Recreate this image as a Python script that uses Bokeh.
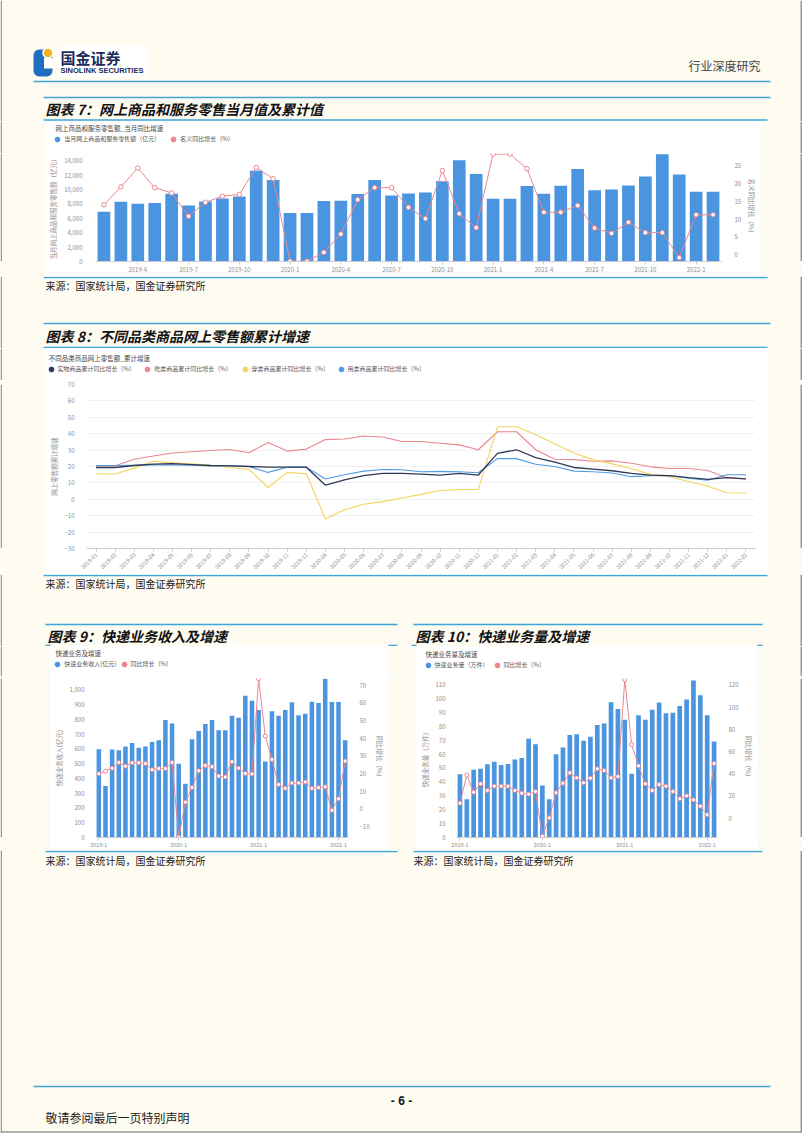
import math
from bokeh.plotting import figure
from bokeh.layouts import column, row
from bokeh.models import (Range1d, LinearAxis, FixedTicker, Legend, LegendItem,
                          NumeralTickFormatter)
from bokeh.core.properties import value
from bokeh.embed import file_html
from bokeh.resources import INLINE

FONT = "Noto Sans CJK SC"
CREAM = "#FEFBF0"
RULE = "#3FA6DA"
BAR = "#4A94E0"
PINK = "#EA8790"
NAVY = "#2F3A57"
YELLOW = "#F4D35E"
LBLUE = "#519CE2"
AX = "#8E8E8E"
PAGE_W, PAGE_H = 802, 1133
NAN = float("nan")

# ---------------- data: chart 7 ----------------
c7_months = ["2019-2", "2019-3", "2019-4", "2019-5", "2019-6", "2019-7", "2019-8", "2019-9", "2019-10",
             "2019-11", "2019-12", "2020-1", "2020-2", "2020-3", "2020-4", "2020-5", "2020-6", "2020-7",
             "2020-8", "2020-9", "2020-10", "2020-11", "2020-12", "2021-1", "2021-2", "2021-3", "2021-4",
             "2021-5", "2021-6", "2021-7", "2021-8", "2021-9", "2021-10", "2021-11", "2021-12", "2022-1",
             "2022-2"]
c7_sales = [6900, 8300, 8020, 8110, 9410, 7790, 8350, 8760, 9040, 12610, 11310, 6720, 6720, 8390, 8440,
            9360, 11310, 9180, 9460, 9600, 11130, 14050, 12150, 8720, 8720, 10480, 9410, 10520, 12840,
            9880, 10010, 10570, 11820, 14880, 12100, 9690, 9690]
c7_growth = [14.0, 19.0, 24.3, 18.8, 17.3, 10.8, 14.7, 16.4, 16.9, 24.4, 21.3, -1.8, -1.8, 0.7, 5.8,
             15.4, 18.8, 18.8, 13.3, 10.1, 23.6, 11.5, 7.6, 28.2, 28.2, 24.1, 11.9, 11.9, 13.8, 7.5, 6.0,
             9.1, 6.2, 6.2, -0.8, 11.2, 11.2]
c7_left_ticks = [0, 2000, 4000, 6000, 8000, 10000, 12000, 14000]
c7_right_ticks = [0, 5, 10, 15, 20, 25]
c7_series = ["当月网上商品和服务零售额（亿元）", "名义同比增长（%）"]

# ---------------- data: chart 8 ----------------
c8_labels = ["2019-01", "2019-02", "2019-03", "2019-04", "2019-05", "2019-06", "2019-07", "2019-08",
             "2019-09", "2019-10", "2019-11", "2019-12", "2020-04", "2020-05", "2020-06", "2020-07",
             "2020-08", "2020-09", "2020-10", "2020-11", "2020-12", "2021-01", "2021-02", "2021-03",
             "2021-04", "2021-05", "2021-06", "2021-07", "2021-08", "2021-09", "2021-10", "2021-11",
             "2021-12", "2022-01", "2022-02"]
c8_goods = [19.4, 19.4, 20.6, 21.4, 21.8, 21.2, 20.6, 20.4, 20.0, 19.6, 19.6, 19.6,
            8.6, 11.8, 14.4, 15.8, 15.8, 15.3, 14.8, 15.8, 14.8,
            28.0, 30.2, 25.4, 22.6, 19.4, 18.4, 17.4, 15.8, 14.8, 14.4, 13.2, 12.2,
            13.2, 12.4]
c8_food = [20.4, 20.4, 24.4, 26.4, 28.2, 29.0, 29.8, 30.4, 28.4, 34.6, 29.4, 30.6,
           36.4, 36.8, 38.6, 38.0, 35.2, 35.2, 34.2, 33.2, 30.2,
           41.2, 41.2, 30.2, 24.4, 24.2, 23.2, 23.4, 22.0, 19.8, 18.8, 18.8, 17.6,
           13.2, 12.4]
c8_wear = [15.6, 15.4, 19.0, 23.2, 22.2, 21.6, 20.8, 19.4, 18.2, 7.2, 16.4, 15.6,
           -12.0, -6.4, -3.0, -1.4, 0.8, 3.0, 5.4, 6.0, 6.0,
           44.2, 44.2, 39.4, 33.8, 28.2, 24.2, 21.6, 18.8, 15.2, 13.8, 10.8, 8.0,
           4.0, 3.8]
c8_use = [20.6, 20.6, 20.8, 21.0, 21.0, 20.8, 20.4, 20.6, 20.0, 16.4, 19.6, 19.6,
          12.4, 15.0, 17.2, 18.2, 18.0, 16.8, 17.0, 16.8, 16.2,
          24.8, 24.8, 21.4, 20.0, 17.2, 16.8, 16.0, 13.8, 14.4, 14.4, 12.8, 11.6,
          15.0, 15.0]
c8_ticks = [-30, -20, -10, 0, 10, 20, 30, 40, 50, 60, 70]
c8_series = ["实物商品累计同比增长（%）", "吃类商品累计同比增长（%）",
             "穿类商品累计同比增长（%）", "用类商品累计同比增长（%）"]

# ---------------- data: charts 9 & 10 ----------------
c9_months = ["2019-1", "2019-2", "2019-3", "2019-4", "2019-5", "2019-6", "2019-7", "2019-8", "2019-9",
             "2019-10", "2019-11", "2019-12", "2020-1", "2020-2", "2020-3", "2020-4", "2020-5", "2020-6",
             "2020-7", "2020-8", "2020-9", "2020-10", "2020-11", "2020-12", "2021-1", "2021-2", "2021-3",
             "2021-4", "2021-5", "2021-6", "2021-7", "2021-8", "2021-9", "2021-10", "2021-11", "2021-12",
             "2022-1", "2022-2"]
c9_revenue = [598, 348, 596, 591, 616, 640, 607, 616, 647, 658, 796, 771,
              499, 364, 665, 721, 769, 796, 726, 726, 825, 811, 960, 926,
              863, 515, 854, 825, 863, 915, 827, 838, 919, 910, 1074, 917,
              917, 658]
c9_growth = [19.8, 21.3, 23.0, 26.2, 24.1, 26.0, 26.0, 25.6, 22.1, 22.8, 22.8, 26.2,
             -16.2, 3.7, 12.0, 21.5, 24.5, 23.8, 18.5, 18.0, 26.6, 23.0, 20.0, 19.7,
             73.5, 41.2, 27.9, 13.7, 11.6, 14.6, 14.6, 15.2, 11.6, 12.0, 12.4, -0.9,
             5.6, 27.0]
c9_left_ticks = [0, 100, 200, 300, 400, 500, 600, 700, 800, 900, 1000]
c9_right_ticks = [-10, 0, 10, 20, 30, 40, 50, 60, 70]

c10_volume = [45.4, 27.5, 48.7, 49.5, 52.6, 54.5, 52.1, 52.8, 56.0, 57.2, 70.9, 67.1,
              37.4, 27.5, 59.8, 64.7, 73.6, 74.3, 69.5, 72.4, 80.8, 82.0, 97.2, 92.4,
              84.7, 45.8, 87.8, 84.7, 91.9, 97.0, 89.3, 89.7, 94.6, 99.2, 112.9, 102.3,
              87.8, 69.0]
c10_growth = [13.5, 38.7, 23.4, 30.9, 24.9, 28.8, 28.8, 28.8, 24.9, 22.5, 21.6, 24.0,
              -16.2, 0.3, 22.8, 31.5, 40.8, 36.3, 31.8, 36.0, 44.4, 42.9, 36.3, 37.5,
              124.5, 66.3, 47.1, 30.9, 24.9, 30.3, 28.8, 24.0, 17.4, 20.1, 16.5, 10.8,
              3.0, 49.2]
c10_left_ticks = [0, 10, 20, 30, 40, 50, 60, 70, 80, 90, 100, 110]
c10_right_ticks = [0, 20, 40, 60, 80, 100, 120]

SOURCE = "来源：国家统计局，国金证券研究所"


# ---------------- helpers ----------------
def deco(x0, x1, y0, y1, bg=CREAM):
    d = figure(width=int(x1 - x0), height=int(y1 - y0), x_range=Range1d(x0, x1), y_range=Range1d(y1, y0),
               x_axis_type=None, y_axis_type=None, output_backend="svg", toolbar_location=None,
               min_border=0, background_fill_color=bg, border_fill_color=bg,
               outline_line_color=None)
    if bg == CREAM:
        if x0 == 0:
            d.line(x=[0.75, 0.75], y=[y0, y1], line_color="#9A9A9A", line_width=1.5)
        if x1 == PAGE_W:
            d.line(x=[PAGE_W - 1.25, PAGE_W - 1.25], y=[y0, y1], line_color="#9A9A9A", line_width=1.5)
        if y1 == PAGE_H:
            d.line(x=[x0, x1], y=[PAGE_H - 1.5, PAGE_H - 1.5], line_color="#9A9A9A", line_width=1.5)
    return d


def txt(d, x, y, t, size, color="#222222", style="normal", align="left", font=FONT):
    d.text(x=[x], y=[y], text=[t], text_font=value(font), text_font_size=value(size),
           text_font_style=value(style), text_color=color, text_align=value(align),
           text_baseline=value("middle"))


def rule(d, x0, x1, y, w=1.6):
    d.line(x=[x0, x1], y=[y, y], line_color=RULE, line_width=w)


def rounded_box(x0, x1, y0, y1, r, steps=6):
    xs, ys = [], []
    corners = [(x1 - r, y0 + r, -90, 0), (x1 - r, y1 - r, 0, 90),
               (x0 + r, y1 - r, 90, 180), (x0 + r, y0 + r, 180, 270)]
    for cx, cy, a0, a1 in corners:
        for k in range(steps + 1):
            a = math.radians(a0 + (a1 - a0) * k / steps)
            xs.append(cx + r * math.cos(a))
            ys.append(cy + r * math.sin(a))
    return xs, ys


def header_strip(x0, x1, y0, y1, title, tx, ty, items):
    """White strip on top of a chart that holds its small title and its legend."""
    d = deco(x0, x1, y0, y1, bg="white")
    txt(d, tx, ty, title, "6.5px", color="#444444")
    for label, color, cx, cy in items:
        r = d.scatter(x=[NAN], y=[NAN], marker="circle", size=5, fill_color=color, line_color=color)
        lg = Legend(items=[LegendItem(label=value(label), renderers=[r])],
                    location=(cx - x0 - 5.5, (y1 - cy) - 5.5),
                    orientation="horizontal", padding=0, margin=0, spacing=0,
                    glyph_width=12, glyph_height=12, label_height=11, label_width=10, label_standoff=1,
                    label_text_font=FONT, label_text_font_size="6px", label_text_color="#555555",
                    background_fill_alpha=0, border_line_color=None)
        d.add_layout(lg)
    return d


def base_chart(w, h, bl, br, bt, bb, x_range, y_range):
    p = figure(width=w, height=h, x_range=x_range, y_range=y_range, output_backend="svg",
               toolbar_location=None, min_border_left=bl, min_border_right=br,
               min_border_top=bt, min_border_bottom=bb, background_fill_color="white",
               border_fill_color="white", outline_line_color=None)
    p.xgrid.visible = False
    p.ygrid.visible = False
    return p


def style_axis(ax, standoff=5):
    ax.axis_line_color = None
    ax.major_tick_line_color = None
    ax.minor_tick_line_color = None
    ax.major_label_text_font = FONT
    ax.major_label_text_font_size = "6px"
    ax.major_label_text_color = AX
    ax.major_label_standoff = standoff
    ax.axis_label_text_font = FONT
    ax.axis_label_text_font_size = "6.5px"
    ax.axis_label_text_font_style = "normal"
    ax.axis_label_text_color = AX
    ax.axis_label_standoff = 3


def style_xaxis(ax):
    style_axis(ax, 2)
    ax.axis_line_color = "#CCCCCC"
    ax.major_tick_line_color = "#CCCCCC"
    ax.major_tick_out = 3
    ax.major_tick_in = 0


def month_ticks(months):
    idx = [i for i, m in enumerate(months) if m.split("-")[1] in ("1", "4", "7", "10")]
    return idx, {i: months[i] for i in idx}


# ---------------- chart 7 ----------------
n7 = len(c7_months)
x7 = list(range(n7))
h7 = header_strip(45, 760, 121, 153, "网上商品和服务零售额_当月同比增速", 55, 127,
                  [(c7_series[0], BAR, 56.7, 139), (c7_series[1], PINK, 172.7, 139)])
p7 = base_chart(715, 123, 46, 30, 0, 15, Range1d(-0.5, n7 - 0.5), Range1d(0, 15000))
p7.extra_y_ranges = {"r": Range1d(-1.876, 28.36)}
p7.vbar(x=x7, top=c7_sales, width=0.75, fill_color=BAR, line_color=None)
p7.line(x=x7, y=c7_growth, y_range_name="r", line_color=PINK, line_width=1)
p7.scatter(x=x7, y=c7_growth, y_range_name="r", marker="circle", size=4.5, fill_color="white",
           line_color=PINK, line_width=1)
p7.add_layout(LinearAxis(y_range_name="r", axis_label=c7_series[1]), "right")
l7 = p7.left[0]
l7.ticker = FixedTicker(ticks=c7_left_ticks)
l7.formatter = NumeralTickFormatter(format="0,0")
l7.axis_label = c7_series[0]
style_axis(l7, 7)
r7 = p7.right[0]
r7.ticker = FixedTicker(ticks=c7_right_ticks)
style_axis(r7, 7)
b7 = p7.below[0]
t7, o7 = month_ticks(c7_months)
b7.ticker = FixedTicker(ticks=t7)
b7.major_label_overrides = o7
style_xaxis(b7)

# ---------------- chart 8 ----------------
h8 = header_strip(45, 767, 348, 380, "不同品类商品网上零售额_累计增速", 48.3, 357.3,
                  [(c8_series[0], NAVY, 50, 369.3), (c8_series[1], PINK, 146.7, 369.3),
                   (c8_series[2], YELLOW, 244, 369.3), (c8_series[3], LBLUE, 340, 369.3)])
p8 = base_chart(722, 194, 27, 12, 4, 23, c8_labels, Range1d(-30, 70))
for vals, col, w in ((c8_food, PINK, 1.1), (c8_wear, YELLOW, 1.1), (c8_use, LBLUE, 1.1),
                     (c8_goods, NAVY, 1.3)):
    p8.line(x=c8_labels, y=vals, line_color=col, line_width=w)
l8 = p8.left[0]
l8.ticker = FixedTicker(ticks=c8_ticks)
l8.axis_label = "网上零售额累计增速"
style_axis(l8, 6)
p8.ygrid.visible = True
p8.ygrid.ticker = FixedTicker(ticks=c8_ticks)
p8.ygrid.grid_line_color = "#F0F0F0"
b8 = p8.below[0]
style_xaxis(b8)
b8.major_label_orientation = math.pi / 4
b8.major_label_text_font_size = "5.5px"


# ---------------- charts 9 & 10 ----------------
def express_chart(w, h, bl, br, bt, bb, ltop, rlo, rhi, bars, growth, lticks, rticks, fmt, lname):
    n = len(c9_months)
    xs = list(range(n))
    p = base_chart(w, h, bl, br, bt, bb, Range1d(-0.5, n - 0.5), Range1d(0, ltop))
    p.extra_y_ranges = {"r": Range1d(rlo, rhi)}
    p.vbar(x=xs, top=bars, width=0.68, fill_color=BAR, line_color=None)
    p.line(x=xs, y=growth, y_range_name="r", line_color=PINK, line_width=1)
    p.scatter(x=xs, y=growth, y_range_name="r", marker="circle", size=4, fill_color="white",
              line_color=PINK, line_width=1)
    p.add_layout(LinearAxis(y_range_name="r", axis_label="同比增长（%）"), "right")
    la = p.left[0]
    la.ticker = FixedTicker(ticks=lticks)
    if fmt:
        la.formatter = NumeralTickFormatter(format=fmt)
    la.axis_label = lname
    style_axis(la, 5)
    ra = p.right[0]
    ra.ticker = FixedTicker(ticks=rticks)
    style_axis(ra, 5)
    ba = p.below[0]
    idx = [i for i, m in enumerate(c9_months) if m.endswith("-1")]
    ba.ticker = FixedTicker(ticks=idx)
    ba.major_label_overrides = {i: c9_months[i] for i in idx}
    style_xaxis(ba)
    ba.major_label_text_font_size = "5.5px"
    ba.major_label_standoff = 1
    return p


h9 = header_strip(50, 388, 646, 676, "快递业务及增速", 55, 652.7,
                  [("快递业务收入(亿元)", BAR, 56.7, 664), ("同比增长（%）", PINK, 123, 664)])
p9 = express_chart(338, 174, 34, 27, 2, 13, 1076.5, -16.3, 73.8, c9_revenue, c9_growth,
                   c9_left_ticks, c9_right_ticks, "0,0", "快递业务收入(亿元)")
h10 = header_strip(416, 757, 646, 676, "快递业务量及增速", 425, 653,
                   [("快递业务量（万件）", BAR, 427, 665), ("同比增长（%）", PINK, 496, 665)])
p10 = express_chart(341, 174, 33, 29, 2, 13, 114.3, -17.4, 125.7, c10_volume, c10_growth,
                    c10_left_ticks, c10_right_ticks, None, "快递业务量（万件）")

# ---------------- page decorations ----------------
s1 = deco(0, PAGE_W, 0, 121)
s1.quad(left=[57], right=[147], top=[46], bottom=[77], fill_color="white", line_color=None)
lx, ly = rounded_box(33, 52, 49, 76, 6)
s1.patch(x=lx, y=ly, fill_color="#1E6FBF", line_color=None)
s1.quad(left=[43.5], right=[52.5], top=[57.5], bottom=[68], fill_color="white", line_color=None)
s1.scatter(x=[47.5], y=[52.5], marker="circle", size=10, fill_color="#F3B41B", line_color="white",
           line_width=1.5)
txt(s1, 60, 57, "国金证券", "15px", color="#1C2B5A", style="bold")
txt(s1, 60, 69.5, "SINOLINK SECURITIES", "7.5px", color="#1C2B5A", style="bold", font="Liberation Sans")
txt(s1, 760, 65, "行业深度研究", "12px", color="#444444", align="right")
rule(s1, 33, 770, 81)
rule(s1, 43, 770, 97)
txt(s1, 45, 108, "图表 7：网上商品和服务零售当月值及累计值", "14px", color="#111111", style="bold italic")
rule(s1, 43, 767, 119.5)

s2 = deco(0, PAGE_W, 276, 348)
rule(s2, 43, 767, 277)
txt(s2, 45, 285, SOURCE, "10px")
rule(s2, 43, 770, 323)
txt(s2, 45, 335, "图表 8：不同品类商品网上零售额累计增速", "14px", color="#111111", style="bold italic")
rule(s2, 43, 767, 347)

s3 = deco(0, PAGE_W, 574, 646)
rule(s3, 43, 767, 575)
txt(s3, 45, 583, SOURCE, "10px")
rule(s3, 45, 397, 624)
rule(s3, 413, 762, 624)
txt(s3, 47, 635, "图表 9：快递业务收入及增速", "14px", color="#111111", style="bold italic")
txt(s3, 415, 635, "图表 10：快递业务量及增速", "14px", color="#111111", style="bold italic")
for a, b in ((45, 50), (388, 397), (411, 416), (757, 762)):
    rule(s3, a, b, 645)

s4 = deco(0, PAGE_W, 850, PAGE_H)
rule(s4, 45, 397, 851)
rule(s4, 413, 762, 851)
txt(s4, 45, 860, SOURCE, "10px")
txt(s4, 413, 860, SOURCE, "10px")
rule(s4, 33, 770, 1086)
txt(s4, 401, 1100, "- 6 -", "12px", color="#111111", style="bold", align="center", font="Liberation Sans")
txt(s4, 45, 1117, "敬请参阅最后一页特别声明", "12px", color="#222222")

page = column(
    s1,
    row(deco(0, 45, 121, 153), h7, deco(760, PAGE_W, 121, 153)),
    row(deco(0, 45, 153, 276), p7, deco(760, PAGE_W, 153, 276)),
    s2,
    row(deco(0, 45, 348, 380), h8, deco(767, PAGE_W, 348, 380)),
    row(deco(0, 45, 380, 574), p8, deco(767, PAGE_W, 380, 574)),
    s3,
    row(deco(0, 50, 646, 676), h9, deco(388, 416, 646, 676), h10, deco(757, PAGE_W, 646, 676)),
    row(deco(0, 50, 676, 850), p9, deco(388, 416, 676, 850), p10, deco(757, PAGE_W, 676, 850)),
    s4,
)

open("out.html", "w").write(file_html(page, INLINE))
